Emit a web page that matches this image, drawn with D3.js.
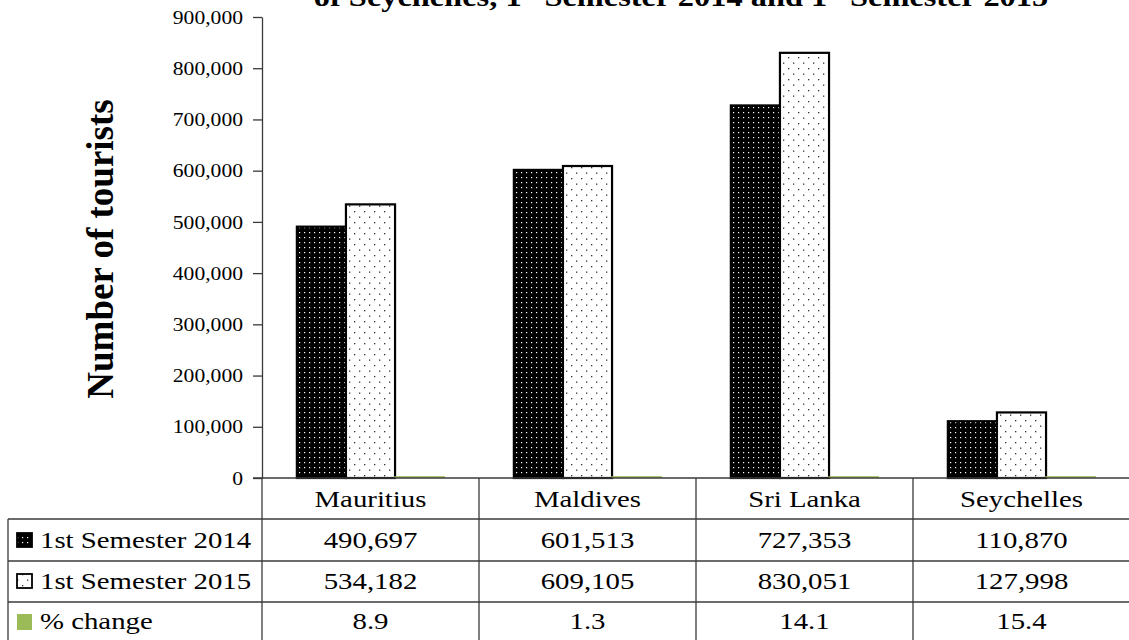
<!DOCTYPE html>
<html>
<head>
<meta charset="utf-8">
<script src="https://cdn.jsdelivr.net/npm/d3@7"></script>
<style>
  html, body { margin: 0; padding: 0; background: #fff; }
  svg { display: block; }
  text { font-family: "Liberation Serif", "Times New Roman", serif; fill: #000; }
</style>
</head>
<body>
<svg id="chart" width="1129" height="640"></svg>
<script>
// ---- data ----
const categories = ["Mauritius", "Maldives", "Sri Lanka", "Seychelles"];
const sem2014 = [490697, 601513, 727353, 110870];
const sem2015 = [534182, 609105, 830051, 127998];
const pctChange = [8.9, 1.3, 14.1, 15.4];
const seriesNames = ["1st Semester 2014", "1st Semester 2015", "% change"];
const yTickValues = [0, 100000, 200000, 300000, 400000, 500000, 600000, 700000, 800000, 900000];
const yAxisTitle = "Number of tourists";

// ---- layout ----
const W = 1129, H = 640;
const plotLeft = 262, plotRight = 1130, plotTop = 17, plotBottom = 478;
const rowLines = [519, 561, 602, 643];
const tableLeft = 8;
const stretch = 1.2;              // text is drawn slightly wide
const lineColor = "#3a3a3a";
const FONT = "Liberation Serif, Times New Roman, serif";

const svg = d3.select("#chart");

// patterns for the two semester series
const defs = svg.append("defs");
const p14 = defs.append("pattern").attr("id", "pat2014")
  .attr("patternUnits", "userSpaceOnUse").attr("width", 5).attr("height", 5);
p14.append("rect").attr("width", 5).attr("height", 5).attr("fill", "#000");
p14.append("rect").attr("x", 2).attr("y", 2).attr("width", 1.2).attr("height", 1.2).attr("fill", "#fff");

const p15 = defs.append("pattern").attr("id", "pat2015")
  .attr("patternUnits", "userSpaceOnUse").attr("width", 10).attr("height", 11);
p15.append("rect").attr("width", 10).attr("height", 11).attr("fill", "#fff");
p15.append("rect").attr("x", 2).attr("y", 2).attr("width", 1.3).attr("height", 1.3).attr("fill", "#333");
p15.append("rect").attr("x", 7).attr("y", 7.5).attr("width", 1.3).attr("height", 1.3).attr("fill", "#333");

const fills = ["url(#pat2014)", "url(#pat2015)", "#9BBB59"];
const strokes = ["#000", "#000", "#9BBB59"];

// ---- scales ----
const y = d3.scaleLinear().domain([0, 900000]).range([plotBottom, plotTop]);
const x = d3.scaleBand().domain(categories).range([plotLeft, plotRight]).padding(0);
const x1 = d3.scaleBand().domain(d3.range(seriesNames.length))
  .range([0, x.bandwidth()]).paddingInner(0).paddingOuter(0.71);

// ---- title (top line runs above the page edge) ----
const title = svg.append("text")
  .attr("text-anchor", "middle")
  .attr("font-family", FONT)
  .attr("transform", `translate(681,6) scale(${stretch},1)`)
  .style("font-weight", "bold").style("font-size", "27px");
title.append("tspan").text("of Seychelles, 1");
title.append("tspan").attr("baseline-shift", "super").style("font-size", "17px").text("st");
title.append("tspan").text(" Semester 2014 and 1");
title.append("tspan").attr("baseline-shift", "super").style("font-size", "17px").text("st");
title.append("tspan").text(" Semester 2015");

// ---- y axis ----
const yAxis = svg.append("g")
  .attr("transform", `translate(${plotLeft},0)`)
  .call(d3.axisLeft(y).tickValues(yTickValues).tickSize(9).tickSizeOuter(0).tickFormat(d3.format(",")))
  .attr("font-family", FONT);
yAxis.select(".domain").attr("stroke", lineColor).attr("stroke-width", 1.3);
yAxis.selectAll(".tick line").attr("stroke", lineColor).attr("stroke-width", 1.3);
yAxis.selectAll(".tick text")
  .attr("x", null)
  .attr("transform", `translate(-19,0) scale(${stretch},1)`)
  .attr("dy", "0.34em")
  .attr("font-family", FONT)
  .style("font-size", "18px").attr("fill", "#000");

// axis title
svg.append("text")
  .attr("text-anchor", "middle")
  .attr("font-family", FONT)
  .attr("transform", "translate(113,249) rotate(-90)")
  .style("font-weight", "bold").style("font-size", "37px")
  .text(yAxisTitle);

// ---- bars ----
const seriesValues = [sem2014, sem2015, pctChange];
const groups = svg.append("g").selectAll("g")
  .data(categories).join("g")
  .attr("transform", d => `translate(${x(d)},0)`);

groups.selectAll("rect")
  .data((d, i) => seriesValues.map((vals, s) => ({ s, v: vals[i] })))
  .join("rect")
  .attr("x", d => x1(d.s))
  .attr("width", x1.bandwidth())
  .attr("y", d => y(d.v) - (d.s === 2 ? 1 : 0))
  .attr("height", d => plotBottom - y(d.v))
  .attr("fill", d => fills[d.s])
  .attr("stroke", d => strokes[d.s])
  .attr("stroke-width", d => d.s === 2 ? 1.6 : 2.2);

// baseline across plot and table header
svg.append("line")
  .attr("x1", plotLeft - 9).attr("x2", W)
  .attr("y1", plotBottom).attr("y2", plotBottom)
  .attr("stroke", lineColor).attr("stroke-width", 1.5);

// ---- data table ----
const table = svg.append("g").attr("font-family", FONT);
rowLines.forEach(yy => {
  table.append("line").attr("x1", tableLeft).attr("x2", W)
    .attr("y1", yy).attr("y2", yy)
    .attr("stroke", lineColor).attr("stroke-width", 1.3);
});
table.append("line").attr("x1", tableLeft).attr("x2", tableLeft)
  .attr("y1", rowLines[0]).attr("y2", H)
  .attr("stroke", lineColor).attr("stroke-width", 1.3);
categories.forEach(c => {
  table.append("line").attr("x1", x(c)).attr("x2", x(c))
    .attr("y1", plotBottom).attr("y2", H)
    .attr("stroke", lineColor).attr("stroke-width", 1.3);
});

// category labels
table.selectAll("text.cat").data(categories).join("text")
  .attr("class", "cat")
  .attr("text-anchor", "middle")
  .attr("font-family", FONT)
  .attr("transform", d => `translate(${x(d) + x.bandwidth() / 2},507) scale(${stretch},1)`)
  .style("font-size", "24px")
  .text(d => d);

// rows: legend key, series name, one value per category
const rowBaselines = [548, 589, 629];
const fmt = [d3.format(","), d3.format(","), d3.format(".1f")];
seriesNames.forEach((name, s) => {
  const by = rowBaselines[s];
  table.append("rect")
    .attr("x", 17).attr("y", by - 15)
    .attr("width", 15).attr("height", s === 2 ? 16 : 14)
    .attr("fill", fills[s])
    .attr("stroke", s === 2 ? "none" : "#000")
    .attr("stroke-width", 1.8);
  table.append("text")
    .attr("font-family", FONT)
    .attr("transform", `translate(40,${by}) scale(${stretch},1)`)
    .style("font-size", "24px")
    .text(name);
  seriesValues[s].forEach((v, i) => {
    table.append("text")
      .attr("text-anchor", "middle")
      .attr("font-family", FONT)
      .attr("transform", `translate(${x(categories[i]) + x.bandwidth() / 2},${by}) scale(${stretch},1)`)
      .style("font-size", "24px")
      .text(fmt[s](v));
  });
});
</script>
</body>
</html>
